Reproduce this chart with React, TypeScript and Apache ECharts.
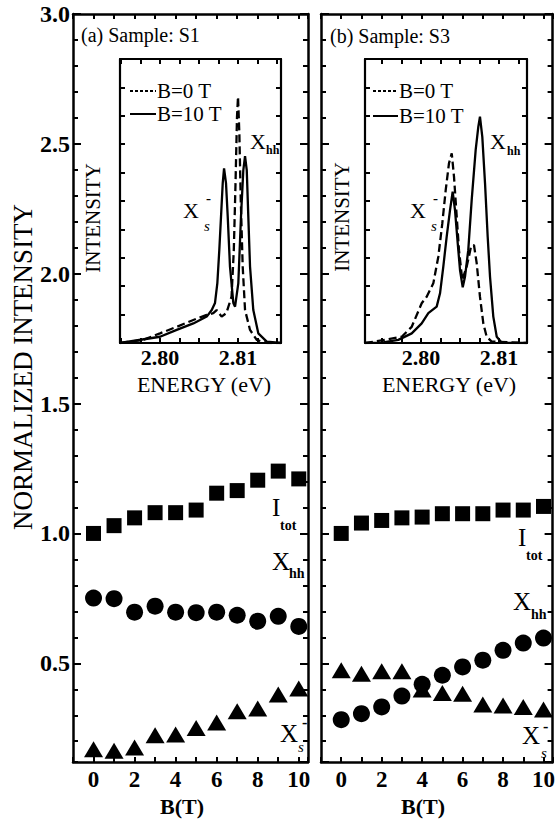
import React, { useEffect, useRef } from "react";
import * as echarts from "echarts";

const FONT = '"Liberation Serif", "Times New Roman", Times, serif';

// Main panels: magnetic field B (T)
const B = [0, 1, 2, 3, 4, 5, 6, 7, 8, 9, 10];
// Sample S1
const s1Itot = [1.0, 1.03, 1.06, 1.08, 1.08, 1.09, 1.155, 1.165, 1.205, 1.24, 1.21];
const s1Xhh = [0.751, 0.749, 0.697, 0.72, 0.697, 0.695, 0.697, 0.685, 0.662, 0.681, 0.642];
const s1Xs = [0.169, 0.163, 0.176, 0.223, 0.226, 0.251, 0.272, 0.315, 0.326, 0.38, 0.403];
// Sample S3
const s3Itot = [1.0, 1.04, 1.05, 1.06, 1.063, 1.076, 1.076, 1.076, 1.09, 1.09, 1.104];
const s3Xhh = [0.283, 0.306, 0.332, 0.374, 0.419, 0.454, 0.486, 0.512, 0.55, 0.578, 0.597];
const s3Xs = [0.473, 0.46, 0.469, 0.469, 0.399, 0.386, 0.383, 0.341, 0.338, 0.332, 0.322];

// Inset (a): spectra of S1
const aSolidE = [2.79487, 2.8, 2.80214, 2.80427, 2.80599, 2.80663, 2.80705, 2.80735, 2.8076, 2.80782, 2.80804, 2.80821, 2.80846, 2.80868, 2.80897, 2.8094, 2.80962, 2.81004, 2.81038, 2.81068, 2.8109, 2.81112, 2.81132, 2.81154, 2.81196, 2.8126, 2.81368, 2.81551];
const aSolidI = [0.0, 0.022, 0.046, 0.069, 0.093, 0.116, 0.141, 0.211, 0.327, 0.445, 0.563, 0.615, 0.563, 0.445, 0.269, 0.141, 0.128, 0.211, 0.445, 0.609, 0.658, 0.609, 0.445, 0.269, 0.116, 0.034, 0.005, 0.0];
const aDashE = [2.79487, 2.79782, 2.8, 2.80214, 2.80427, 2.80599, 2.80683, 2.80726, 2.8079, 2.8085, 2.80917, 2.80946, 2.80968, 2.80987, 2.81, 2.81017, 2.81035, 2.8106, 2.8109, 2.81154, 2.8124, 2.81368, 2.81551];
const aDashI = [0.0, 0.011, 0.034, 0.057, 0.081, 0.099, 0.105, 0.116, 0.093, 0.105, 0.163, 0.327, 0.562, 0.797, 0.867, 0.738, 0.504, 0.269, 0.116, 0.046, 0.011, 0.0, 0.0];

// Inset (b): spectra of S3
const bSolidE = [2.79282, 2.79496, 2.79709, 2.79881, 2.80009, 2.80094, 2.80201, 2.80244, 2.80286, 2.80329, 2.80372, 2.80406, 2.80436, 2.80471, 2.805, 2.80535, 2.80564, 2.80606, 2.8065, 2.80701, 2.80735, 2.80756, 2.80786, 2.80821, 2.80855, 2.80885, 2.80927, 2.80971, 2.81035, 2.81359];
const bSolidI = [0.0, 0.001, 0.011, 0.034, 0.069, 0.105, 0.128, 0.175, 0.269, 0.374, 0.468, 0.533, 0.468, 0.351, 0.257, 0.196, 0.233, 0.327, 0.504, 0.68, 0.762, 0.797, 0.726, 0.562, 0.374, 0.233, 0.093, 0.022, 0.001, 0.0];
const bDashE = [2.79282, 2.79538, 2.79753, 2.79881, 2.80009, 2.80073, 2.80158, 2.80222, 2.80273, 2.80317, 2.80359, 2.80394, 2.80423, 2.80458, 2.80487, 2.80529, 2.80586, 2.80641, 2.80679, 2.80714, 2.80756, 2.80799, 2.80842, 2.80906, 2.81359];
const bDashI = [0.0, 0.011, 0.022, 0.057, 0.14, 0.163, 0.21, 0.304, 0.421, 0.539, 0.633, 0.668, 0.586, 0.445, 0.327, 0.222, 0.269, 0.339, 0.345, 0.281, 0.163, 0.069, 0.022, 0.005, 0.0];

const pair = (xs: number[], ys: number[]) => xs.map((x, i) => [x, ys[i]]);

const AX = { color: "#000", width: 2.5 };

const mainX = (gridIndex: number, position: string, showLabel: boolean) => ({
  type: "value",
  gridIndex,
  position,
  min: -1,
  max: 10.45,
  interval: 1,
  axisLine: { show: true, onZero: false, lineStyle: AX },
  axisTick: { show: true, inside: true, length: 5, lineStyle: { color: "#000", width: 2 } },
  axisLabel: {
    show: showLabel,
    margin: 6,
    color: "#000",
    fontFamily: FONT,
    fontSize: 23,
    fontWeight: "bold",
    formatter: (v: number) => (v >= 0 && Math.abs(v % 2) < 1e-9 ? String(v) : ""),
  },
  splitLine: { show: false },
});

const mainY = (gridIndex: number, position: string, major: boolean, showLabel: boolean) => ({
  type: "value",
  gridIndex,
  position,
  min: 0.12,
  max: 3.0,
  minInterval: major ? 0.5 : 0.1,
  maxInterval: major ? 0.5 : 0.1,
  axisLine: { show: major, onZero: false, lineStyle: AX },
  axisTick: { show: true, inside: true, length: major ? 8 : 5, lineStyle: { color: "#000", width: 2 } },
  axisLabel: {
    show: showLabel,
    showMinLabel: false,
    margin: 3,
    color: "#000",
    fontFamily: FONT,
    fontSize: 24,
    fontWeight: "bold",
    formatter: (v: number) => (v >= 0.45 ? v.toFixed(1) : ""),
  },
  splitLine: { show: false },
});

const insetX = (gridIndex: number, position: string, min: number, max: number, showLabel: boolean) => ({
  type: "value",
  gridIndex,
  position,
  min,
  max,
  minInterval: 0.0025,
  maxInterval: 0.0025,
  axisLine: { show: true, onZero: false, lineStyle: { color: "#000", width: 2.2 } },
  axisTick: { show: true, inside: true, length: 5, lineStyle: { color: "#000", width: 2 } },
  axisLabel: {
    show: showLabel,
    margin: 3,
    color: "#000",
    fontFamily: FONT,
    fontSize: 22,
    fontWeight: "bold",
    formatter: (v: number) => {
      const k = Math.round(v * 100);
      return Math.abs(v * 100 - k) < 1e-6 ? (k / 100).toFixed(2) : "";
    },
  },
  splitLine: { show: false },
});

const insetY = (gridIndex: number, position: string) => ({
  type: "value",
  gridIndex,
  position,
  min: 0,
  max: 1,
  interval: 0.1,
  axisLine: { show: true, onZero: false, lineStyle: { color: "#000", width: 2.2 } },
  axisTick: { show: true, inside: true, length: 5, lineStyle: { color: "#000", width: 2 } },
  axisLabel: { show: false },
  splitLine: { show: false },
});

const scatter = (xi: number, yi: number, ys: number[], symbol: string, size: any) => ({
  type: "scatter",
  xAxisIndex: xi,
  yAxisIndex: yi,
  data: pair(B, ys),
  symbol,
  symbolSize: size,
  itemStyle: { color: "#000", opacity: 1 },
  clip: false,
  z: 5,
});

const spectrum = (xi: number, yi: number, xs: number[], ys: number[], dashed: boolean) => ({
  type: "line",
  xAxisIndex: xi,
  yAxisIndex: yi,
  data: pair(xs, ys),
  showSymbol: false,
  symbol: "none",
  smooth: false,
  lineStyle: { color: "#000", width: 2.3, type: dashed ? [8, 4] : "solid" },
  z: 5,
});

const t = (text: string, x: number, y: number, size: number, extra: any = {}, rotation = 0) => ({
  type: "text",
  x,
  y,
  z: 100,
  rotation,
  style: {
    text,
    fontFamily: FONT,
    fontSize: size,
    fill: "#000",
    align: "left",
    verticalAlign: "middle",
    ...extra,
  },
});

const ln = (x1: number, y1: number, x2: number, y2: number, dash: any) => ({
  type: "line",
  z: 100,
  shape: { x1, y1, x2, y2 },
  style: { stroke: "#000", lineWidth: 2, lineDash: dash },
});

const graphics = [
  t("(a) Sample: S1", 81, 35, 20),
  t("(b) Sample: S3", 330, 36, 20),
  t("NORMALIZED INTENSITY", 23, 367, 27, { align: "center" }, Math.PI / 2),
  t("B(T)", 182, 806, 22, { align: "center", fontWeight: "bold" }),
  t("B(T)", 423, 806, 22, { align: "center", fontWeight: "bold" }),
  t("INTENSITY", 93, 218, 21, { align: "center" }, Math.PI / 2),
  t("INTENSITY", 342, 217, 21, { align: "center" }, Math.PI / 2),
  t("ENERGY (eV)", 204, 384, 22, { align: "center" }),
  t("ENERGY (eV)", 449, 384, 22, { align: "center" }),
  // inset legends
  ln(130, 91, 156, 91, [3, 2]),
  t("B=0 T", 157, 91, 21),
  ln(130, 114, 156, 114, null),
  t("B=10 T", 157, 114, 21),
  ln(373, 91, 398, 91, [3, 2]),
  t("B=0 T", 399, 91, 21),
  ln(373, 116, 398, 116, null),
  t("B=10 T", 399, 116, 21),
  // inset peak labels (a)
  t("X", 250, 141, 22),
  t("hh", 266, 150, 12, { fontWeight: "bold" }),
  t("X", 183, 210, 22),
  t("-", 206, 198, 15, { fontWeight: "bold" }),
  t("s", 204, 226, 15, { fontStyle: "italic" }),
  // inset peak labels (b)
  t("X", 490, 141, 22),
  t("hh", 507, 151, 12, { fontWeight: "bold" }),
  t("X", 410, 210, 22),
  t("-", 433, 198, 15, { fontWeight: "bold" }),
  t("s", 431, 226, 15, { fontStyle: "italic" }),
  // main labels (a)
  t("I", 272, 507, 25),
  t("tot", 280, 525, 14, { fontWeight: "bold" }),
  t("X", 272, 561, 25),
  t("hh", 289, 573, 14, { fontWeight: "bold" }),
  t("X", 280, 733, 25),
  t("-", 302, 722, 16, { fontWeight: "bold" }),
  t("s", 298, 747, 15, { fontStyle: "italic" }),
  // main labels (b)
  t("I", 518, 537, 25),
  t("tot", 526, 555, 14, { fontWeight: "bold" }),
  t("X", 513, 601, 25),
  t("hh", 531, 614, 14, { fontWeight: "bold" }),
  t("X", 522, 735, 25),
  t("-", 543, 726, 16, { fontWeight: "bold" }),
  t("s", 541, 753, 15, { fontStyle: "italic" }),
];

const option: any = {
  animation: false,
  backgroundColor: "#fff",
  grid: [
    { left: 73, top: 14, width: 235, height: 748 },
    { left: 321, top: 14, width: 233, height: 748 },
    { left: 120, top: 59, width: 161, height: 284 },
    { left: 365, top: 59, width: 162, height: 284 },
  ],
  xAxis: [
    mainX(0, "bottom", true),
    mainX(0, "top", false),
    mainX(1, "bottom", true),
    mainX(1, "top", false),
    insetX(2, "bottom", 2.79487, 2.81551, true),
    insetX(2, "top", 2.79487, 2.81551, false),
    insetX(3, "bottom", 2.79282, 2.81359, true),
    insetX(3, "top", 2.79282, 2.81359, false),
  ],
  yAxis: [
    mainY(0, "left", true, true),
    mainY(0, "left", false, false),
    mainY(0, "right", true, false),
    mainY(0, "right", false, false),
    mainY(1, "left", true, false),
    mainY(1, "left", false, false),
    mainY(1, "right", true, false),
    mainY(1, "right", false, false),
    insetY(2, "left"),
    insetY(2, "right"),
    insetY(3, "left"),
    insetY(3, "right"),
  ],
  series: [
    scatter(0, 0, s1Itot, "rect", 15),
    scatter(0, 0, s1Xhh, "circle", 17),
    scatter(0, 0, s1Xs, "triangle", [19, 16]),
    scatter(2, 4, s3Itot, "rect", 15),
    scatter(2, 4, s3Xhh, "circle", 17),
    scatter(2, 4, s3Xs, "triangle", [19, 16]),
    spectrum(4, 8, aDashE, aDashI, true),
    spectrum(4, 8, aSolidE, aSolidI, false),
    spectrum(6, 10, bDashE, bDashI, true),
    spectrum(6, 10, bSolidE, bSolidI, false),
  ],
  graphic: graphics,
};

export default function App() {
  const ref = useRef<HTMLDivElement>(null);
  useEffect(() => {
    document.body.style.margin = "0";
    const chart = echarts.init(ref.current as HTMLDivElement, null, { renderer: "svg" });
    chart.setOption(option);
    return () => chart.dispose();
  }, []);
  return <div ref={ref} style={{ width: 558, height: 827 }} />;
}
